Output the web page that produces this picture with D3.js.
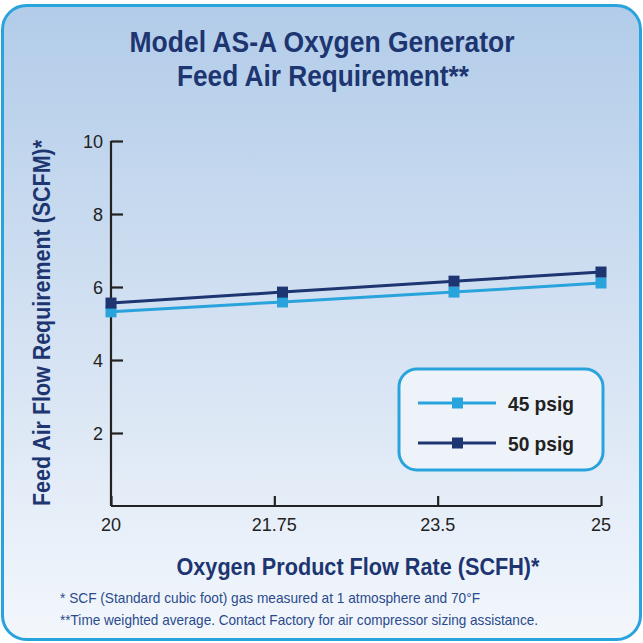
<!DOCTYPE html>
<html>
<head>
<meta charset="utf-8">
<script src="https://cdn.jsdelivr.net/npm/d3@7"></script>
<style>
  body { margin: 0; background: #fff; }
  svg { display: block; }
</style>
</head>
<body>
<div id="chart"></div>
<script>
// data
const flowRates = [20, 21.75, 23.5, 25]
const xTickLabels = ['20', '21.75', '23.5', '25']
const yTicks = [2, 4, 6, 8, 10]
const psig45 = [5.32, 5.59, 5.86, 6.11]
const psig50 = [5.56, 5.86, 6.16, 6.41]
const seriesNames = ['45 psig', '50 psig']
const seriesColors = ['#29a3dc', '#1d3570']

const W = 643, H = 643
const sans = '"Liberation Sans", Arial, Helvetica, sans-serif'

const svg = d3.select('#chart').append('svg')
    .attr('width', W)
    .attr('height', H)

const defs = svg.append('defs')
const grad = defs.append('linearGradient')
    .attr('id', 'bg')
    .attr('x1', 0).attr('y1', 0).attr('x2', 0).attr('y2', 1)
grad.append('stop').attr('offset', '0%').attr('stop-color', '#b2cce9')
grad.append('stop').attr('offset', '55%').attr('stop-color', '#d6e3f3')
grad.append('stop').attr('offset', '100%').attr('stop-color', '#f3f7fc')

// panel
svg.append('rect')
    .attr('x', 2.5).attr('y', 5.5)
    .attr('width', 638).attr('height', 634)
    .attr('rx', 24)
    .attr('fill', 'url(#bg)')
    .attr('stroke', '#29a3dc')
    .attr('stroke-width', 3)

// narrow bold look: squeeze regular Arial-like text to a measured width
const squeezed = (sel, len) => sel
    .attr('textLength', len)
    .attr('lengthAdjust', 'spacingAndGlyphs')

// title
const title = svg.append('g')
    .attr('font-family', sans)
    .attr('font-weight', 'bold')
    .attr('font-size', 29)
    .attr('fill', '#1d3570')
    .attr('text-anchor', 'middle')
title.append('text').attr('x', 322).attr('y', 52).text('Model AS-A Oxygen Generator').call(squeezed, 385)
title.append('text').attr('x', 323).attr('y', 86).text('Feed Air Requirement**').call(squeezed, 292)

const x = d3.scaleLinear().domain([20, 25]).range([111, 601])
const xAxisScale = d3.scalePoint().domain(xTickLabels).range([111, 601])
const y = d3.scaleLinear().domain([0, 10]).range([506, 141])

// axes
const yAxis = d3.axisRight(y).tickValues(yTicks).tickSize(12).tickFormat('')
const yG = svg.append('g').attr('transform', 'translate(111,0)').call(yAxis)
yG.select('.domain').attr('d', `M0,${y(10)}V${y(0)}`)
const xAxis = d3.axisTop(xAxisScale).tickSize(10).tickFormat('')
const xG = svg.append('g').attr('transform', `translate(0,${y(0)})`).call(xAxis)
xG.select('.domain').attr('d', 'M111,0H601')
svg.selectAll('.domain, .tick line')
    .attr('stroke', '#222')
    .attr('stroke-width', 2.2)

svg.append('g').selectAll('text')
    .data(yTicks)
    .join('text')
    .attr('x', 103)
    .attr('y', d => y(d) + 6.5)
    .attr('text-anchor', 'end')
    .attr('font-family', sans)
    .attr('font-size', 18)
    .attr('fill', '#222')
    .text(d => d)

svg.append('g').selectAll('text')
    .data(xTickLabels)
    .join('text')
    .attr('x', d => xAxisScale(d))
    .attr('y', 531)
    .attr('text-anchor', 'middle')
    .attr('font-family', sans)
    .attr('font-size', 18)
    .attr('fill', '#222')
    .text(d => d)

// axis titles
svg.append('text')
    .attr('transform', 'translate(50,323) rotate(-90)')
    .attr('text-anchor', 'middle')
    .attr('font-family', sans)
    .attr('font-weight', 'bold')
    .attr('font-size', 23)
    .attr('fill', '#1d3570')
    .text('Feed Air Flow Requirement (SCFM)*')
    .call(squeezed, 366)

svg.append('text')
    .attr('x', 358).attr('y', 575)
    .attr('text-anchor', 'middle')
    .attr('font-family', sans)
    .attr('font-weight', 'bold')
    .attr('font-size', 23)
    .attr('fill', '#1d3570')
    .text('Oxygen Product Flow Rate (SCFH)*')
    .call(squeezed, 363)

// footnotes
const notes = ['* SCF (Standard cubic foot) gas measured at 1 atmosphere and 70°F',
    '**Time weighted average. Contact Factory for air compressor sizing assistance.']
const noteWidths = [420, 478]
svg.append('g').selectAll('text')
    .data(notes)
    .join('text')
    .attr('x', 60)
    .attr('y', (d, i) => 603 + i * 22)
    .attr('font-family', sans)
    .attr('font-size', 15)
    .attr('fill', '#2b4a8c')
    .attr('textLength', (d, i) => noteWidths[i])
    .attr('lengthAdjust', 'spacingAndGlyphs')
    .text(d => d)

// series
const series = [psig45, psig50]
const line = d3.line().x((d, i) => x(flowRates[i])).y(d => y(d))

series.forEach((vals, s) => {
    svg.append('path')
        .datum(vals)
        .attr('fill', 'none')
        .attr('stroke', seriesColors[s])
        .attr('stroke-width', 3)
        .attr('d', line)
    svg.append('g').selectAll('rect')
        .data(vals)
        .join('rect')
        .attr('x', (d, i) => x(flowRates[i]) - 5.5)
        .attr('y', d => y(d) - 5.5)
        .attr('width', 11)
        .attr('height', 11)
        .attr('fill', seriesColors[s])
})

// legend
const lg = svg.append('g')
lg.append('rect')
    .attr('x', 399).attr('y', 369)
    .attr('width', 204).attr('height', 101)
    .attr('rx', 18)
    .attr('fill', '#eef3fa')
    .attr('stroke', '#29a3dc')
    .attr('stroke-width', 3)

seriesNames.forEach((name, s) => {
    const ly = 403 + s * 40
    lg.append('line')
        .attr('x1', 418).attr('x2', 496)
        .attr('y1', ly).attr('y2', ly)
        .attr('stroke', seriesColors[s])
        .attr('stroke-width', 3)
    lg.append('rect')
        .attr('x', 452).attr('y', ly - 5.5)
        .attr('width', 11).attr('height', 11)
        .attr('fill', seriesColors[s])
    lg.append('text')
        .attr('x', 508).attr('y', ly + 7.5)
        .attr('font-family', sans)
        .attr('font-weight', 'bold')
        .attr('font-size', 21)
        .attr('fill', '#222')
        .text(name)
        .call(squeezed, 66)
})
</script>
</body>
</html>
